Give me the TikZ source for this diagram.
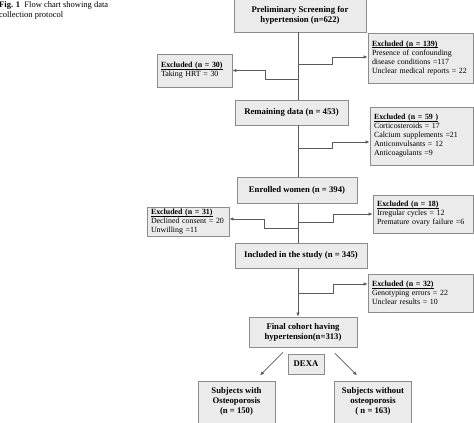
\documentclass[tikz,border=0pt]{standalone}
\usepackage{fontspec}
\setmainfont{Liberation Serif}
\usetikzlibrary{arrows.meta}
\definecolor{boxfill}{HTML}{EBEBEB}
\definecolor{boxline}{HTML}{8C8C8C}
\definecolor{flowline}{HTML}{5A5A5A}
\newcommand\exhead[1]{\setbox0\hbox{\textbf{#1}}\rlap{\rule[-1.4pt]{\wd0}{0.45pt}}\box0}
\tikzset{
  stage/.style={draw=boxline,fill=boxfill,line width=0.8pt,align=center,
    font=\bfseries\fontsize{8.7}{10}\selectfont,inner sep=2pt},
  excl/.style={draw=boxline,fill=boxfill,line width=0.8pt,align=left,
    font=\fontsize{7.9}{9}\selectfont,inner xsep=4pt,inner ysep=2pt},
  flow/.style={draw=flowline,line width=0.8pt},
  flowarr/.style={flow,-{Latex[length=4pt,width=3.5pt]}}
}
\begin{document}
\begin{tikzpicture}[x=1pt,y=-1pt]
  \useasboundingbox (0,0) rectangle (474,423);
  \node[anchor=north west,align=left,inner sep=0pt,font=\fontsize{8.5}{10}\selectfont] (cap) at (-1,1)
    {\textbf{Fig. 1}\enspace Flow chart showing data\\collection protocol};
  % main stages
  \node[stage,minimum width=132pt,minimum height=33pt] (scr) at (300,15.5) {Preliminary Screening for\\hypertension (n=622)};
  \node[stage,minimum width=113pt,minimum height=25pt] (rem) at (291.5,112.5) {Remaining data (n = 453)};
  \node[stage,minimum width=120pt,minimum height=26pt] (enr) at (297,190) {Enrolled women (n = 394)};
  \node[stage,minimum width=132pt,minimum height=25pt] (inc) at (301,255.5) {Included in the study (n = 345)};
  \node[stage,minimum width=108pt,minimum height=30pt] (fin) at (303,332) {Final cohort having\\hypertension(n=313)};
  \node[stage,minimum width=36pt,minimum height=20pt] (dexa) at (306,364) {DEXA};
  \node[stage,minimum width=77pt,inner ysep=5pt,text height=7pt,text depth=38pt,anchor=north] (osw) at (236.5,381)
    {\begin{tabular}[t]{@{}c@{}}Subjects with\\Osteoporosis\\(n = 150)\end{tabular}};
  \node[stage,minimum width=77pt,inner ysep=5pt,text height=7pt,text depth=38pt,anchor=north] (osn) at (373,381)
    {\begin{tabular}[t]{@{}c@{}}Subjects without\\osteoporosis\\( n = 163)\end{tabular}};
  % exclusions
  \node[excl,text width=97pt,minimum height=50pt] (ex139) at (420.5,58)
    {\exhead{Excluded (n = 139)}\\Presence of confounding\\disease conditions =117\\Unclear medical reports = 22};
  \node[excl,text width=67pt,minimum height=33pt] (ex30) at (194.5,70.5)
    {\exhead{Excluded (n = 30)}\\Taking HRT = 30};
  \node[excl,text width=95pt,minimum height=58pt] (ex59) at (421.5,136)
    {\exhead{Excluded (n = 59 )}\\Corticosteroids = 17\\Calcium supplements =21\\Anticonvulsants = 12\\Anticoagulants =9};
  \node[excl,text width=92pt,minimum height=38pt] (ex18) at (423,214)
    {\exhead{Excluded (n = 18)}\\Irregular cycles = 12\\Premature ovary failure =6};
  \node[excl,text width=74pt,minimum height=28pt] (ex31) at (188,222)
    {\exhead{Excluded (n = 31)}\\Declined consent = 20\\Unwilling =11};
  \node[excl,text width=97pt,minimum height=38pt] (ex32) at (420.5,293)
    {\exhead{Excluded (n = 32)}\\Genotyping errors = 22\\Unclear results = 10};
  % spine and junctions
  \coordinate (spine) at (298,0);
  \coordinate (j1) at (298,64);
  \coordinate (j2) at (298,79);
  \coordinate (j3) at (298,148);
  \coordinate (j4) at (298,222);
  \coordinate (j5) at (298,228);
  \coordinate (j6) at (298,293);
  \draw[flow] (scr.south -| spine) -- (rem.north -| spine);
  \draw[flow] (rem.south -| spine) -- (enr.north -| spine);
  \draw[flow] (enr.south -| spine) -- (inc.north -| spine);
  \draw[flowarr] (inc.south -| spine) -- (fin.north -| spine);
  \draw[flowarr] (j1) -- ++(34,0) |- ([yshift=1pt]ex139.west);
  \draw[flowarr] (j2) -- ++(-33,0) |- (ex30.east);
  \draw[flowarr] (j3) -- ++(34,0) |- ([yshift=-6pt]ex59.west);
  \draw[flowarr] (j4) -- ++(35,0) |- (ex18.west);
  \draw[flowarr] (j5) -- ++(-34,0) |- ([yshift=3pt]ex31.east);
  \draw[flowarr] (j6) -- ++(35,0) |- ([yshift=9pt]ex32.west);
  % DEXA split
  \draw[flowarr] (fin.south) ++(-20,5) -- ++(-23,23);
  \draw[flowarr] (fin.south) ++(32,6) -- ++(22,22);
\end{tikzpicture}
\end{document}
